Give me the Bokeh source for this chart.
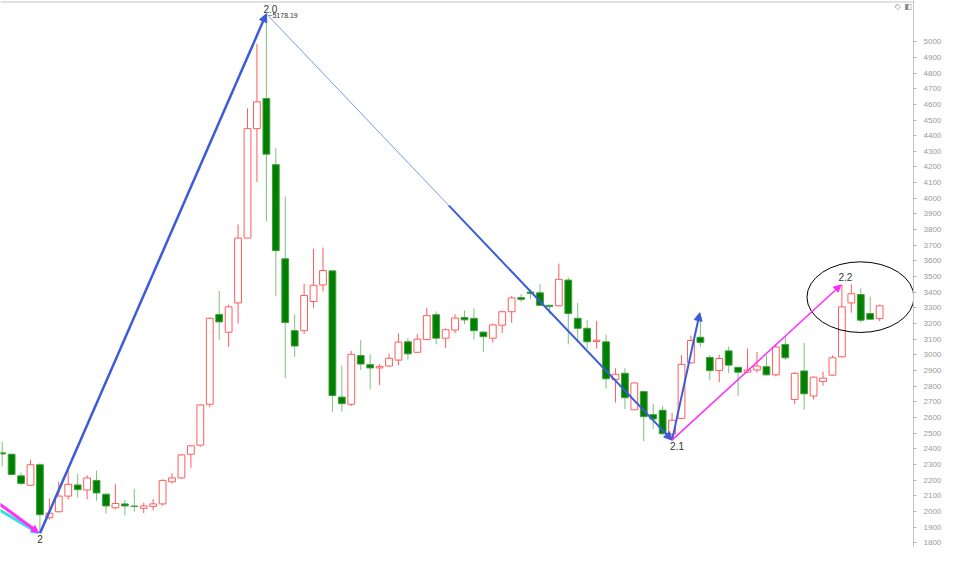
from bokeh.plotting import figure
from bokeh.models import Range1d, FixedTicker, Arrow, NormalHead, Span
from bokeh.embed import file_html
from bokeh.resources import INLINE
from bokeh.core.properties import value

# ---- candle data (open, high, low, close) ----
opens = [2375, 2366, 2228, 2168, 2299, 1961, 1999, 2099, 2170, 2138,
         2199, 2111, 2024, 2049, 2035, 2021, 2033, 2049, 2190, 2215,
         2366, 2424, 2685, 3259, 3145, 3332, 3746, 4445, 4637, 4215,
         3614, 3155, 3155, 3341, 3447, 3537, 2731, 2685, 2996, 2938,
         2917, 2929, 2967, 3084, 3017, 3098, 3257, 3107, 3159, 3239,
         3234, 3146, 3107, 3190, 3276, 3366, 3401, 3397, 3317, 3314,
         3478, 3234, 3170, 3086, 3084, 2842, 2883, 2650, 2766, 2619,
         2647, 2495, 2595, 2950, 3113, 2984, 2900, 3026, 2921, 2890,
         2904, 2925, 2873, 3067, 2716, 2898, 2738, 2831, 2871, 2988,
         3332, 3386, 3264, 3232]
highs = [2445, 2372, 2249, 2331, 2309, 2084, 2190, 2263, 2241, 2232,
         2262, 2115, 2174, 2074, 2145, 2057, 2080, 2205, 2245, 2366,
         2425, 2685, 3240, 3409, 3322, 3833, 4574, 4986, 5178.19, 4319,
         4011, 3259, 3455, 3677, 3685, 3540, 2932, 3026, 3096, 3004,
         2942, 3009, 3138, 3107, 3134, 3301, 3278, 3170, 3259, 3284,
         3297, 3150, 3201, 3284, 3376, 3389, 3418, 3451, 3320, 3583,
         3495, 3332, 3222, 3217, 3130, 2915, 2915, 2825, 2770, 2689,
         2675, 2629, 2998, 3123, 3250, 2998, 3002, 3054, 2925, 3040,
         3019, 2998, 3071, 3113, 2890, 3076, 2862, 2894, 2998, 3451,
         3451, 3426, 3372, 3322]
lows = [2289, 2230, 2168, 2163, 1861, 1949, 1995, 2078, 2090, 2078,
        2069, 1986, 2015, 1975, 1999, 1990, 2007, 2038, 2180, 2210,
        2278, 2414, 2666, 3096, 3051, 3201, 3746, 4105, 3852, 3374,
        2852, 2988, 3134, 3301, 3405, 2637, 2639, 2675, 2904, 2779,
        2808, 2925, 2935, 2971, 3012, 3095, 3067, 3044, 3138, 3197,
        3098, 3019, 3080, 3140, 3205, 3339, 3359, 3314, 3259, 3310,
        3067, 3092, 3040, 3040, 2785, 2696, 2654, 2648, 2449, 2528,
        2490, 2456, 2590, 2945, 3051, 2838, 2825, 2883, 2738, 2885,
        2888, 2868, 2863, 2967, 2685, 2650, 2716, 2804, 2865, 2985,
        3270, 3207, 3225, 3217]
closes = [2368, 2237, 2180, 2299, 1980, 1990, 2099, 2174, 2140, 2215,
          2119, 2036, 2052, 2036, 2033, 2036, 2049, 2199, 2215, 2362,
          2420, 2681, 3234, 3211, 3307, 3746, 4445, 4616, 4282, 3666,
          3207, 3057, 3380, 3445, 3539, 2741, 2689, 3004, 2942, 2917,
          2927, 2979, 3082, 3007, 3101, 3251, 3107, 3161, 3236, 3224,
          3155, 3117, 3192, 3276, 3364, 3355, 3393, 3317, 3309, 3483,
          3264, 3170, 3084, 3094, 2848, 2877, 2727, 2821, 2606, 2591,
          2497, 2583, 2940, 3092, 3080, 2900, 2977, 2935, 2890, 2904,
          2929, 2873, 3051, 2982, 2883, 2752, 2858, 2852, 2982, 3307,
          3391, 3222, 3228, 3314]
idx = list(range(len(opens)))

# ---- axis ticks ----
tick_values = list(range(1800, 5001, 100))

# ---- wave annotations (index, price) ----
pivot_idx = [4, 28, 71]
pivot_labels = ["2", "2.0", "2.1", "2.2"]
peak_label = "5178.19"
pre_magenta = [(-4, 2213), (3.85, 1866)]
pre_cyan = [(-4, 2145), (3.85, 1862)]
down_thick_frac = 0.45
bounce_end = (73.94, 3270)
wave22_end = (88.9, 3447)
wave22_label_idx = 89
ellipse_center = (90.97, 3369)
ellipse_size = (11.34, 451)

p = figure(width=945, height=547, output_backend="svg", toolbar_location=None,
           x_range=Range1d(-0.18, 96.59), y_range=Range1d(1770.7, 5263),
           x_axis_location=None, y_axis_location="right",
           min_border_left=0, min_border_right=32, min_border_top=0, min_border_bottom=0)
p.grid.visible = False
p.outline_line_color = None
p.background_fill_color = "white"
p.border_fill_color = "white"

ax = p.yaxis[0]
ax.ticker = FixedTicker(ticks=tick_values)
ax.minor_tick_line_color = None
ax.axis_line_color = "#c4c4c4"
ax.major_tick_line_color = "#b4b4b4"
ax.major_tick_in = 0
ax.major_tick_out = 3
ax.major_label_text_color = "#9a9a9a"
ax.major_label_text_font = "Liberation Sans"
ax.major_label_text_font_size = "8px"
ax.major_label_standoff = 7

p.add_layout(Span(location=5253.6, dimension="width", line_color="#c4c4c4", line_width=1))

# split candles
up_x, up_o, up_c, up_h, up_l = [], [], [], [], []
dn_x, dn_o, dn_c, dn_h, dn_l = [], [], [], [], []
for i, o, h, l, c in zip(idx, opens, highs, lows, closes):
    if c >= o:
        up_x.append(i); up_o.append(o); up_c.append(c); up_h.append(h); up_l.append(l)
    else:
        dn_x.append(i); dn_o.append(o); dn_c.append(c); dn_h.append(h); dn_l.append(l)

RED = "#ff5c5c"
GREEN = "#007f00"
GREEN_WICK = "#7fbf7f"
W = 0.72

p.segment(x0=dn_x, y0=dn_l, x1=dn_x, y1=dn_h, line_color=GREEN_WICK, line_width=1)
p.vbar(x=dn_x, width=W, top=dn_o, bottom=dn_c, fill_color=GREEN, line_color="#3f9f3f", line_width=1)
p.segment(x0=up_x, y0=up_c, x1=up_x, y1=up_h, line_color=RED, line_width=1)
p.segment(x0=up_x, y0=up_l, x1=up_x, y1=up_o, line_color=RED, line_width=1)
p.vbar(x=up_x, width=W, top=up_c, bottom=up_o, fill_color="white", line_color=RED, line_width=1)

BLUE = "#3b5bdb"
MAG = "#ff2bff"
CYAN = "#33dede"

def arrow(a, b, color, lw, size):
    p.add_layout(Arrow(end=NormalHead(size=size, fill_color=color, line_color=color),
                       x_start=a[0], y_start=a[1], x_end=b[0], y_end=b[1],
                       line_color=color, line_width=lw))

lo2 = (pivot_idx[0], lows[pivot_idx[0]])
hi20 = (pivot_idx[1], highs[pivot_idx[1]])
lo21 = (pivot_idx[2], lows[pivot_idx[2]])
thick_start = (hi20[0] + down_thick_frac * (lo21[0] - hi20[0]),
               hi20[1] + down_thick_frac * (lo21[1] - hi20[1]))

arrow(pre_cyan[0], pre_cyan[1], CYAN, 3, 7)
arrow(pre_magenta[0], pre_magenta[1], MAG, 3, 7)
arrow(lo2, hi20, BLUE, 2.5, 8)
p.line(x=[hi20[0], lo21[0]], y=[hi20[1], lo21[1]], line_color="#7d98ee", line_width=1)
arrow(thick_start, lo21, BLUE, 2, 8)
arrow(lo21, bounce_end, BLUE, 2, 8)
arrow(lo21, wave22_end, MAG, 1.5, 7)

p.ellipse(x=[ellipse_center[0]], y=[ellipse_center[1]], width=ellipse_size[0], height=ellipse_size[1],
          fill_color=None, line_color="black", line_width=1)

F = value("Liberation Sans")
p.text(x=[lo2[0], lo21[0]], y=[lo2[1], lo21[1]], text=[pivot_labels[0], pivot_labels[2]],
       x_offset=[0, 5], y_offset=2, text_align="center", text_baseline="top",
       text_font=F, text_font_size="10px", text_color="#333333")
p.text(x=[hi20[0], wave22_label_idx], y=[hi20[1], highs[wave22_label_idx]], text=[pivot_labels[1], pivot_labels[3]],
       x_offset=[4, 3.5], y_offset=[-1, -3], text_align="center", text_baseline="bottom",
       text_font=F, text_font_size="10px", text_color="#333333")
p.text(x=[hi20[0]], y=[hi20[1]], text=["~" + peak_label], x_offset=2, y_offset=2,
       text_align="left", text_baseline="middle", text_font=F, text_font_size="7px", text_color="#333333")
p.text(x=[94.9, 96.0], y=[5222, 5222], text=["\u25c7", "\u25e7"], text_align="center", text_baseline="middle",
       text_font=value("DejaVu Sans"), text_font_size="8px", text_color="#888888")

open("out.html", "w").write(file_html(p, INLINE))
